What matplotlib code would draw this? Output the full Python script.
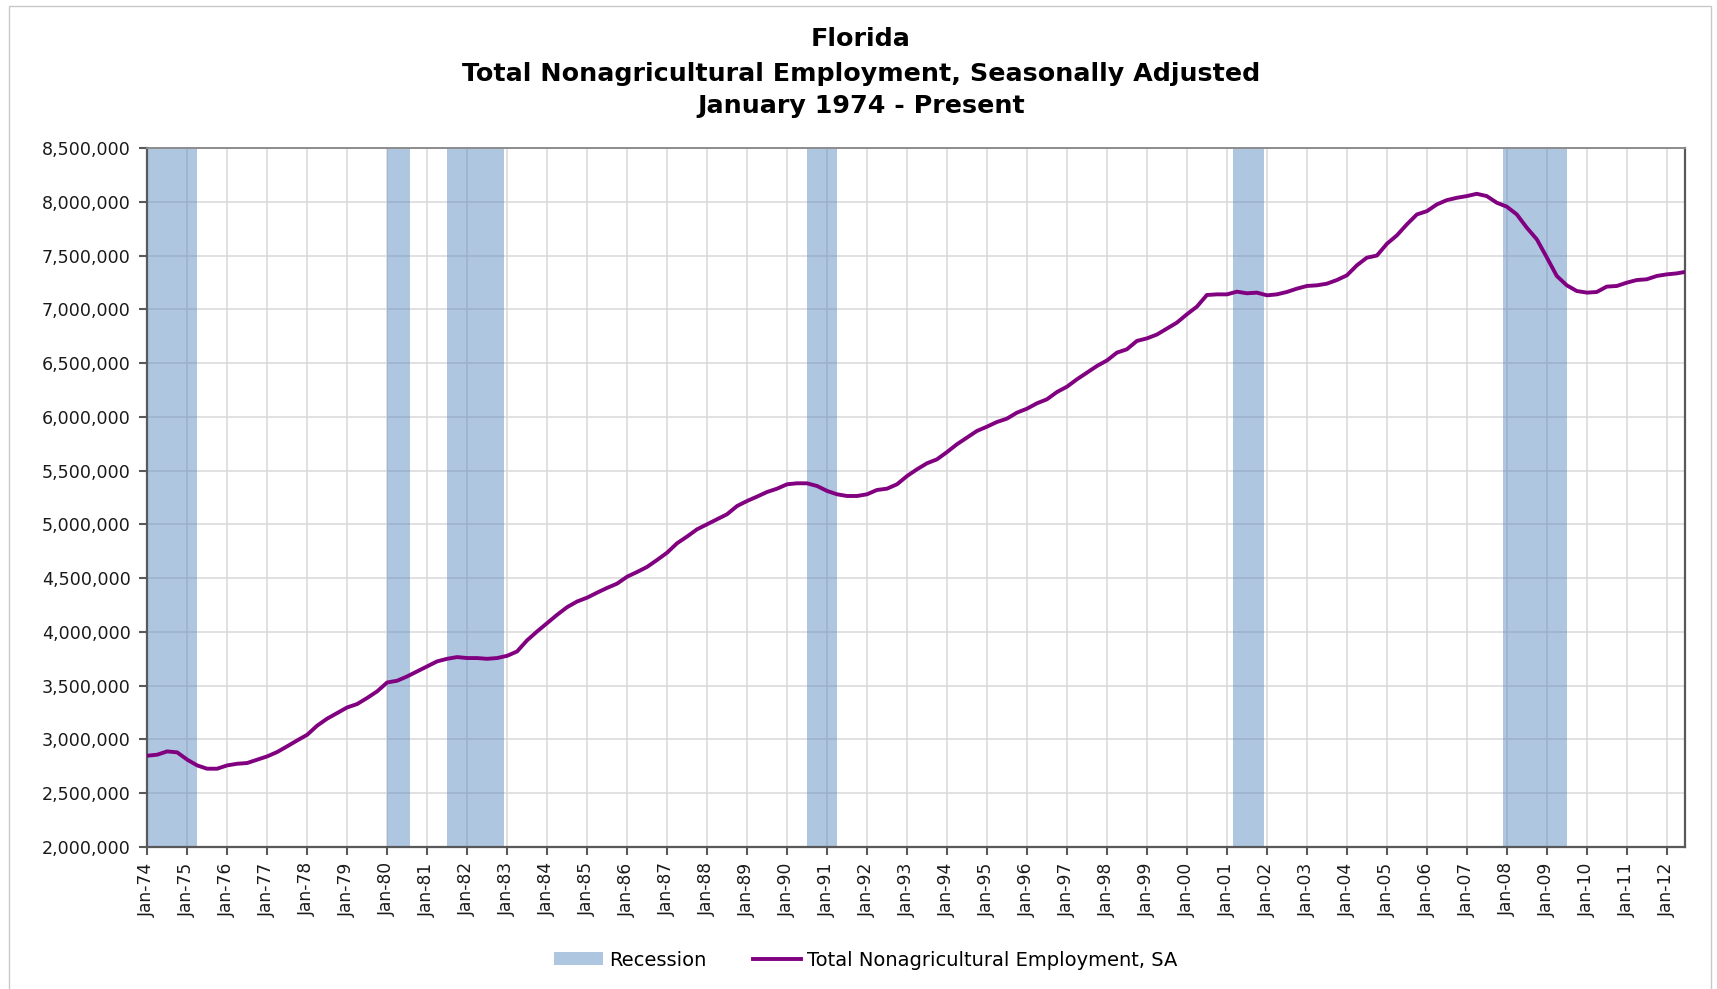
import numpy as np
import pandas as pd
import matplotlib
matplotlib.use("Agg")
import matplotlib.pyplot as plt
import matplotlib.dates as mdates
from matplotlib.patches import Patch, Rectangle
from matplotlib.lines import Line2D
from matplotlib.ticker import MultipleLocator, FuncFormatter

# quarterly readings, Jan 1974 .. Apr 2012 (thousands)
employment_k = [
    2849, 2858, 2889, 2880,   # 1974
    2812, 2759, 2728, 2728,   # 1975
    2759, 2774, 2781, 2812,   # 1976
    2843, 2883, 2936, 2991,   # 1977
    3044, 3128, 3193, 3245,   # 1978
    3298, 3329, 3385, 3447,   # 1979
    3530, 3546, 3586, 3633,   # 1980
    3679, 3726, 3750, 3766,   # 1981
    3757, 3757, 3750, 3757,   # 1982
    3778, 3818, 3921, 4004,   # 1983
    4082, 4159, 4230, 4283,   # 1984
    4319, 4365, 4409, 4449,   # 1985
    4514, 4557, 4604, 4669,   # 1986
    4737, 4824, 4886, 4954,   # 1987
    5001, 5047, 5094, 5171,   # 1988
    5218, 5258, 5301, 5332,   # 1989
    5373, 5382, 5382, 5357,   # 1990
    5311, 5280, 5264, 5264,   # 1991
    5280, 5320, 5332, 5373,   # 1992
    5450, 5512, 5568, 5605,   # 1993
    5673, 5745, 5807, 5869,   # 1994
    5909, 5952, 5983, 6039,   # 1995
    6076, 6126, 6163, 6231,   # 1996
    6281, 6349, 6411, 6473,   # 1997
    6525, 6597, 6628, 6706,   # 1998
    6730, 6765, 6820, 6876,   # 1999
    6954, 7025, 7133, 7139,   # 2000
    7139, 7164, 7149, 7155,   # 2001
    7130, 7139, 7161, 7192,   # 2002
    7217, 7223, 7238, 7272,   # 2003
    7316, 7409, 7480, 7500,   # 2004
    7610, 7687, 7789, 7882,   # 2005
    7913, 7975, 8015, 8037,   # 2006
    8053, 8074, 8053, 7991,   # 2007
    7954, 7882, 7759, 7650,   # 2008
    7480, 7310, 7223, 7170,   # 2009
    7155, 7161, 7211, 7217,   # 2010
    7248, 7272, 7279, 7310,   # 2011
    7325, 7334,               # 2012
]
last_month = "2012-06-01"
last_value_k = 7345

recession_starts = ["1973-11-01", "1980-01-01", "1981-07-01", "1990-07-01", "2001-03-01", "2007-12-01"]
recession_ends = ["1975-04-01", "1980-08-01", "1982-12-01", "1991-04-01", "2001-12-01", "2009-07-01"]

title_lines = ["Florida",
               "Total Nonagricultural Employment, Seasonally Adjusted",
               "January 1974 - Present"]

dates = list(pd.date_range("1974-01-01", periods=len(employment_k), freq="3MS"))
dates.append(pd.Timestamp(last_month))
values = np.array(employment_k + [last_value_k]) * 1000

band_color = "#4f81bd"
line_color = "#800080"
axis_color = "#595959"

fig = plt.figure(figsize=(17.17, 9.89), dpi=100)
ax = fig.add_axes([147.3 / 1717, 1 - 847 / 989, (1685 - 147.3) / 1717, (847 - 148) / 989])

for s, e in zip(recession_starts, recession_ends):
    ax.axvspan(pd.Timestamp(s), pd.Timestamp(e), color=band_color, alpha=0.45, lw=0, zorder=1)

ax.plot(dates, values, color=line_color, lw=2.8, zorder=3, solid_joinstyle="round")

ax.set_xlim(pd.Timestamp("1974-01-01"), pd.Timestamp("2012-06-15"))
ax.set_ylim(2000000, 8500000)
ax.yaxis.set_major_locator(MultipleLocator(500000))
ax.yaxis.set_major_formatter(FuncFormatter(lambda v, p: f"{int(v):,}"))
ax.xaxis.set_major_locator(mdates.YearLocator(1, month=1, day=1))
ax.xaxis.set_major_formatter(mdates.DateFormatter("%b-%y"))

ax.set_axisbelow(True)
ax.grid(True, color="#d9d9d9", lw=1.1, zorder=0)

for side in ["left", "bottom", "right"]:
    ax.spines[side].set_color(axis_color)
    ax.spines[side].set_linewidth(1.6)
ax.spines["top"].set_color("#8c8c8c")
ax.spines["top"].set_linewidth(1.4)

ax.tick_params(axis="y", direction="out", length=6, width=1.5, color=axis_color,
               labelsize=12.6, labelcolor="#1a1a1a", pad=6)
ax.tick_params(axis="x", direction="out", length=6, width=1.5, color=axis_color,
               labelsize=12.3, labelcolor="#1a1a1a", labelrotation=90, pad=5)
for lab in ax.get_yticklabels() + ax.get_xticklabels():
    lab.set_fontfamily("DejaVu Sans")

title_base = [1 - 46.5 / 989, 1 - 80.5 / 989, 1 - 113 / 989]
for txt, y in zip(title_lines, title_base):
    fig.text(861 / 1717, y, txt, ha="center", va="baseline", fontsize=18.3,
             fontweight="bold", family="DejaVu Sans", color="black")

handles = [Patch(facecolor=band_color, alpha=0.45, edgecolor="none"),
           Line2D([0], [0], color=line_color, lw=2.8)]
fig.legend(handles, ["Recession", "Total Nonagricultural Employment, SA"],
           loc="center", bbox_to_anchor=(866 / 1717, 1 - 960 / 989), ncol=2,
           frameon=False, handlelength=2.5, handleheight=0.6, handletextpad=0.3,
           columnspacing=2.4, prop={"family": "DejaVu Sans", "size": 14})

fig.patches.append(Rectangle((9 / 1717, -0.01), (1711 - 9) / 1717, 1 - 6 / 989 + 0.01,
                             transform=fig.transFigure, fill=False,
                             edgecolor="#c8c8c8", lw=1.0))

fig.savefig("out.png", dpi=100)
